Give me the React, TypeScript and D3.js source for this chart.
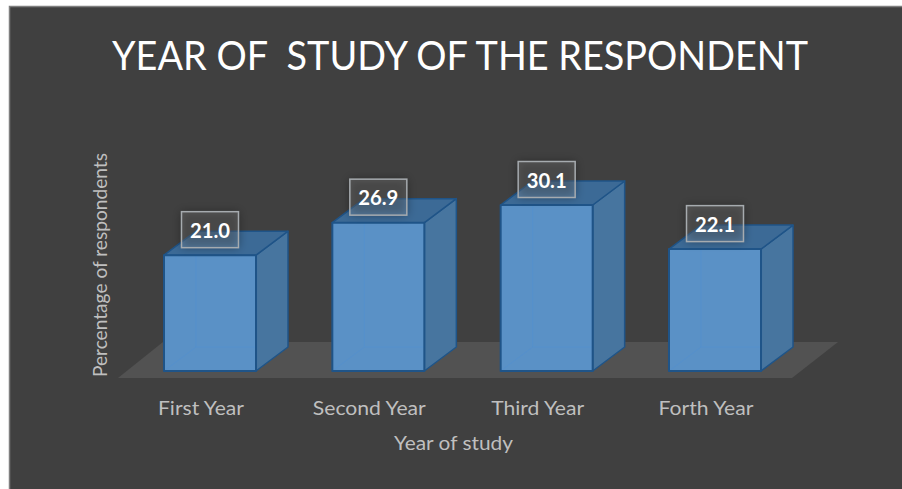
import React from "react";
import * as d3 from "d3";

const categories = ["First Year", "Second Year", "Third Year", "Forth Year"];
const percentages = [21.0, 26.9, 30.1, 22.1];
const titleText = "YEAR OF  STUDY OF THE RESPONDENT";
const xAxisTitle = "Year of study";
const yAxisTitle = "Percentage of respondents";

const WIDTH = 902;
const HEIGHT = 489;
const DEPTH_X = 32;
const DEPTH_Y = 24;
const BASE_Y = 371;

const FONT = "Lato, 'Open Sans', sans-serif";

const y = d3.scaleLinear().domain([0, 30.1]).range([BASE_Y, 205]);
const x = d3.scaleBand<string>().domain(categories).range([126, 799]).paddingInner(0.4534).paddingOuter(0.2257);

const poly = (pts: [number, number][]) => d3.line()(pts) + "Z";

function Box({ label, value }: { label: string; value: number }) {
  const left = x(label) as number;
  const right = left + x.bandwidth();
  const top = y(value);
  const edge = "#1f5488";
  const backLeft = left + DEPTH_X;
  const backRight = right + DEPTH_X;
  const backBase = BASE_Y - DEPTH_Y;
  const backTop = top - DEPTH_Y;
  return (
    <g strokeLinejoin="round">
      <path d={poly([[left, BASE_Y], [right, BASE_Y], [backRight, backBase], [backLeft, backBase]])} fill="#4f85b8" />
      <path d={poly([[right, top], [backRight, backTop], [backRight, backBase], [right, BASE_Y]])} fill="#47759f" stroke={edge} strokeWidth={1.5} />
      <path d={poly([[left, top], [right, top], [backRight, backTop], [backLeft, backTop]])} fill="#3c6a96" stroke={edge} strokeWidth={1.5} />
      <path d={poly([[left, top], [right, top], [right, BASE_Y], [left, BASE_Y]])} fill="#5a91c6" />
      <path d={`M${backLeft},${top}V${backBase}L${left},${BASE_Y}M${backLeft},${backBase}H${right}`} fill="none" stroke="#5590cc" strokeWidth={1} />
      <path d={poly([[left, top], [right, top], [right, BASE_Y], [left, BASE_Y]])} fill="none" stroke={edge} strokeWidth={2} />
    </g>
  );
}

function ValueLabel({ label, value }: { label: string; value: number }) {
  const cx = (x(label) as number) + x.bandwidth() / 2;
  const cy = y(value) - 25.5;
  return (
    <g>
      <rect x={cx - 29} y={cy - 18} width={58} height={36} fill="#000000" fillOpacity={0.35} filter="url(#labelShadow)" />
      <rect x={cx - 28.5} y={cy - 18} width={57} height={36} fill="#ffffff" fillOpacity={0.14} stroke="#a6abaf" strokeWidth={1.5} />
      <text x={cx} y={cy + 8} textAnchor="middle" fill="#ffffff" fontFamily={FONT} fontSize={21} fontWeight={700} textLength={40} lengthAdjust="spacingAndGlyphs">
        {value.toFixed(1)}
      </text>
    </g>
  );
}

export default function App() {
  const labelWidths = [86, 113, 93, 95];
  return (
    <svg width={WIDTH} height={HEIGHT} style={{ position: "absolute", left: 0, top: 0 }}>
      <defs>
        <filter id="labelShadow" x="-30%" y="-40%" width="160%" height="180%">
          <feGaussianBlur stdDeviation="5" />
        </filter>
      </defs>
      <rect width={WIDTH} height={HEIGHT} fill="#ffffff" />
      <rect x={9.5} y={6.5} width={WIDTH} height={HEIGHT} fill="#404040" stroke="#7f7f7f" strokeWidth={1.5} />
      <text x={112} y={70} fill="#ffffff" fontFamily={FONT} fontSize={40} textLength={696} lengthAdjust="spacingAndGlyphs" style={{ whiteSpace: "pre" }}>{titleText}</text>
      <path d={poly([[118, 378], [792, 378], [838, 342], [163, 342]])} fill="#525252" />
      {categories.map((c, i) => <Box key={c} label={c} value={percentages[i]} />)}
      {categories.map((c, i) => <ValueLabel key={c} label={c} value={percentages[i]} />)}
      {categories.map((c, i) => (
        <text key={c} x={(x(c) as number) + x.bandwidth() / 2 - 9} y={415} textAnchor="middle" fill="#bfbfbf" fontFamily={FONT} fontSize={19.5} textLength={labelWidths[i]} lengthAdjust="spacingAndGlyphs">{c}</text>
      ))}
      <text x={453.5} y={450} textAnchor="middle" fill="#bfbfbf" fontFamily={FONT} fontSize={19.5} textLength={119} lengthAdjust="spacingAndGlyphs">{xAxisTitle}</text>
      <text transform="translate(107,265) rotate(-90)" textAnchor="middle" fill="#bfbfbf" fontFamily={FONT} fontSize={19.5} textLength={224} lengthAdjust="spacingAndGlyphs">{yAxisTitle}</text>
    </svg>
  );
}
